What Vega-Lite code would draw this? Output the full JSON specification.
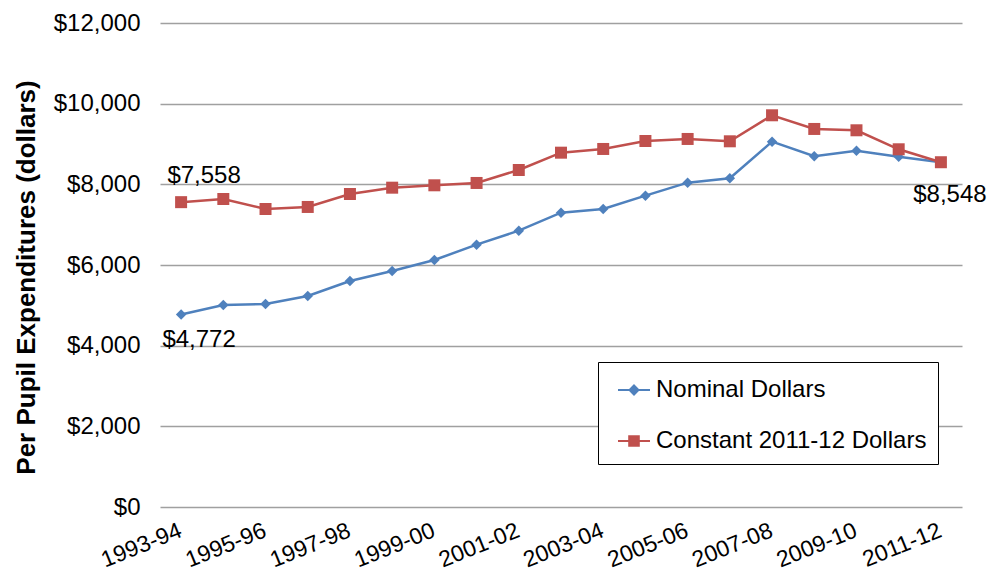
{
  "$schema": "https://vega.github.io/schema/vega-lite/v6.json",
  "width": 802,
  "height": 484,
  "autosize": "none",
  "padding": {"left": 160, "top": 23, "right": 28, "bottom": 66},
  "config": {
    "view": {"stroke": null},
    "font": "Liberation Sans",
    "text": {"font": "Liberation Sans"}
  },
  "data": {
    "values": [
      {"year": "1993-94", "series": "Nominal Dollars", "value": 4772},
      {"year": "1994-95", "series": "Nominal Dollars", "value": 5009},
      {"year": "1995-96", "series": "Nominal Dollars", "value": 5033},
      {"year": "1996-97", "series": "Nominal Dollars", "value": 5232},
      {"year": "1997-98", "series": "Nominal Dollars", "value": 5604},
      {"year": "1998-99", "series": "Nominal Dollars", "value": 5852},
      {"year": "1999-00", "series": "Nominal Dollars", "value": 6124},
      {"year": "2000-01", "series": "Nominal Dollars", "value": 6504},
      {"year": "2001-02", "series": "Nominal Dollars", "value": 6851},
      {"year": "2002-03", "series": "Nominal Dollars", "value": 7297},
      {"year": "2003-04", "series": "Nominal Dollars", "value": 7389},
      {"year": "2004-05", "series": "Nominal Dollars", "value": 7719},
      {"year": "2005-06", "series": "Nominal Dollars", "value": 8041},
      {"year": "2006-07", "series": "Nominal Dollars", "value": 8150},
      {"year": "2007-08", "series": "Nominal Dollars", "value": 9058},
      {"year": "2008-09", "series": "Nominal Dollars", "value": 8696},
      {"year": "2009-10", "series": "Nominal Dollars", "value": 8835},
      {"year": "2010-11", "series": "Nominal Dollars", "value": 8686},
      {"year": "2011-12", "series": "Nominal Dollars", "value": 8548},
      {"year": "1993-94", "series": "Constant 2011-12 Dollars", "value": 7558},
      {"year": "1994-95", "series": "Constant 2011-12 Dollars", "value": 7637},
      {"year": "1995-96", "series": "Constant 2011-12 Dollars", "value": 7389},
      {"year": "1996-97", "series": "Constant 2011-12 Dollars", "value": 7439},
      {"year": "1997-98", "series": "Constant 2011-12 Dollars", "value": 7761},
      {"year": "1998-99", "series": "Constant 2011-12 Dollars", "value": 7917},
      {"year": "1999-00", "series": "Constant 2011-12 Dollars", "value": 7976},
      {"year": "2000-01", "series": "Constant 2011-12 Dollars", "value": 8034},
      {"year": "2001-02", "series": "Constant 2011-12 Dollars", "value": 8356},
      {"year": "2002-03", "series": "Constant 2011-12 Dollars", "value": 8785},
      {"year": "2003-04", "series": "Constant 2011-12 Dollars", "value": 8877},
      {"year": "2004-05", "series": "Constant 2011-12 Dollars", "value": 9075},
      {"year": "2005-06", "series": "Constant 2011-12 Dollars", "value": 9125},
      {"year": "2006-07", "series": "Constant 2011-12 Dollars", "value": 9067},
      {"year": "2007-08", "series": "Constant 2011-12 Dollars", "value": 9712},
      {"year": "2008-09", "series": "Constant 2011-12 Dollars", "value": 9373},
      {"year": "2009-10", "series": "Constant 2011-12 Dollars", "value": 9340},
      {"year": "2010-11", "series": "Constant 2011-12 Dollars", "value": 8869},
      {"year": "2011-12", "series": "Constant 2011-12 Dollars", "value": 8548}
    ]
  },
  "encoding": {
    "x": {
      "field": "year",
      "type": "ordinal",
      "sort": null,
      "scale": {"padding": 0.5},
      "axis": {
        "title": null,
        "values": ["1993-94", "1995-96", "1997-98", "1999-00", "2001-02", "2003-04", "2005-06", "2007-08", "2009-10", "2011-12"],
        "labelAngle": -22,
        "labelFontSize": 23,
        "labelColor": "#000000",
        "labelPadding": 12,
        "labelOffset": -5,
        "domain": false,
        "ticks": false,
        "tickSize": 0,
        "grid": false
      }
    },
    "y": {
      "field": "value",
      "type": "quantitative",
      "scale": {"domain": [0, 12000], "nice": false},
      "axis": {
        "title": "Per Pupil Expenditures (dollars)",
        "titleFontSize": 26,
        "titleFontWeight": "bold",
        "titleColor": "#000000",
        "titlePadding": 14,
        "titleY": 254,
        "values": [0, 2000, 4000, 6000, 8000, 10000, 12000],
        "format": "$,d",
        "labelFontSize": 24,
        "labelColor": "#000000",
        "labelPadding": 20,
        "domain": false,
        "ticks": false,
        "tickSize": 0,
        "grid": true,
        "gridColor": "#a0a0a0",
        "gridWidth": 1.5
      }
    }
  },
  "layer": [
    {
      "mark": {"type": "line", "strokeWidth": 2.5},
      "encoding": {
        "color": {
          "field": "series",
          "type": "nominal",
          "scale": {
            "domain": ["Nominal Dollars", "Constant 2011-12 Dollars"],
            "range": ["#4f81bd", "#c0504d"]
          },
          "legend": {
            "title": null,
            "orient": "none",
            "legendX": 438,
            "legendY": 339,
            "padding": 11,
            "fillColor": "#ffffff",
            "strokeColor": "#000000",
            "labelFontSize": 24,
            "labelColor": "#000000",
            "labelLimit": 500,
            "labelOffset": 5,
            "symbolOffset": 8,
            "symbolSize": 1024,
            "symbolStrokeWidth": 2,
            "rowPadding": 22,
            "cornerRadius": 0,
            "encode": {
              "symbols": {
                "update": {
                  "shape": {"signal": "datum.value === 'Nominal Dollars' ? 'M-1,0H1M0,-0.28L0.28,0L0,0.28L-0.28,0Z' : 'M-1,0H1M-0.3,-0.3H0.3V0.3H-0.3Z'"},
                  "fill": {"signal": "datum.value === 'Nominal Dollars' ? '#4f81bd' : '#c0504d'"},
                  "stroke": {"signal": "datum.value === 'Nominal Dollars' ? '#4f81bd' : '#c0504d'"},
                  "strokeWidth": {"value": 2},
                  "opacity": {"value": 1}
                }
              }
            }
          }
        }
      }
    },
    {
      "transform": [{"filter": "datum.series === 'Nominal Dollars'"}],
      "mark": {"type": "point", "shape": "diamond", "size": 110, "filled": true, "opacity": 1, "color": "#4f81bd"}
    },
    {
      "transform": [{"filter": "datum.series === 'Constant 2011-12 Dollars'"}],
      "mark": {"type": "point", "shape": "square", "size": 144, "filled": true, "opacity": 1, "color": "#c0504d"}
    },
    {
      "transform": [{"filter": "datum.year === '1993-94' && datum.series === 'Constant 2011-12 Dollars'"}],
      "mark": {"type": "text", "fontSize": 24, "dx": 23, "dy": -26, "color": "#000000"},
      "encoding": {"text": {"field": "value", "type": "quantitative", "format": "$,d"}}
    },
    {
      "transform": [{"filter": "datum.year === '1993-94' && datum.series === 'Nominal Dollars'"}],
      "mark": {"type": "text", "fontSize": 24, "dx": 18, "dy": 25, "color": "#000000"},
      "encoding": {"text": {"field": "value", "type": "quantitative", "format": "$,d"}}
    },
    {
      "transform": [{"filter": "datum.year === '2011-12' && datum.series === 'Constant 2011-12 Dollars'"}],
      "mark": {"type": "text", "fontSize": 24, "dx": 9, "dy": 33, "color": "#000000"},
      "encoding": {"text": {"field": "value", "type": "quantitative", "format": "$,d"}}
    }
  ]
}
